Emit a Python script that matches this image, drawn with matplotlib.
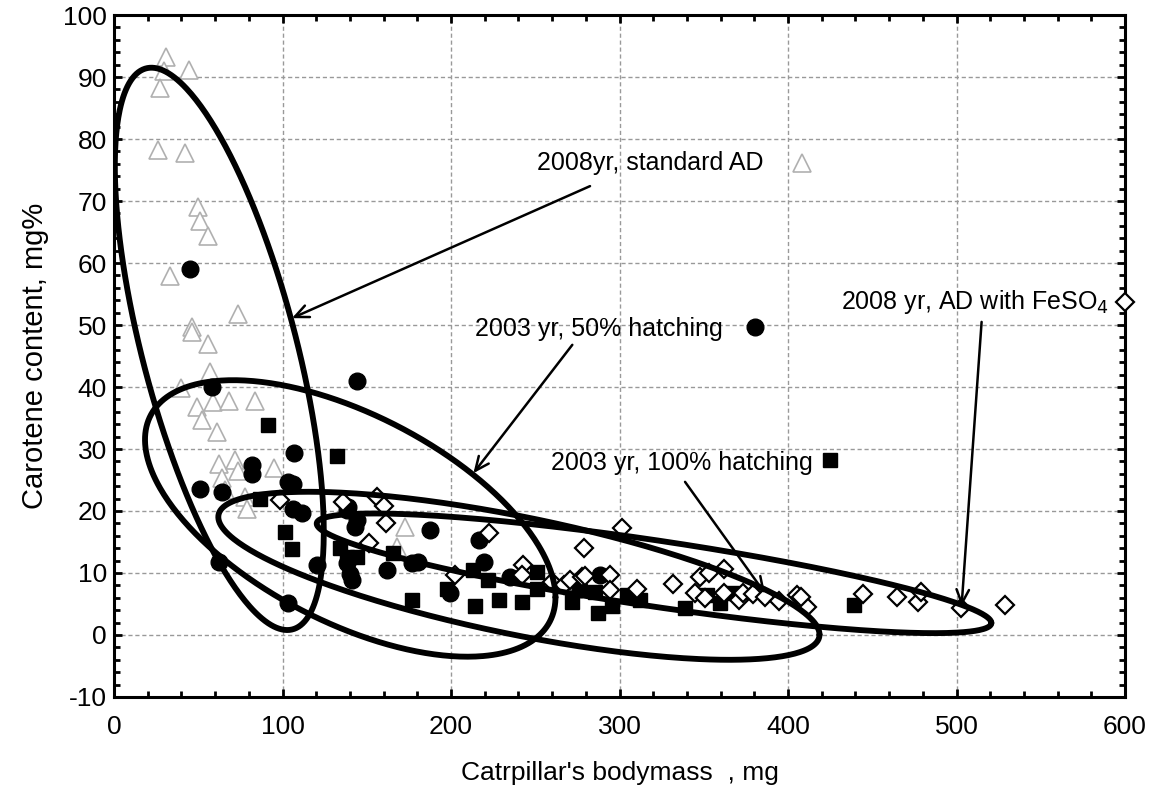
import numpy as np
import matplotlib
matplotlib.use("Agg")
import matplotlib.pyplot as plt
from matplotlib.ticker import MultipleLocator

plt.rcParams['font.family'] = ['Liberation Sans', 'DejaVu Sans']
plt.rcParams['axes.unicode_minus'] = False

# ---- data: 2008 yr, standard AD (open grey triangles)
tri_x = [30.9, 44.5, 29.9, 27.3, 25.9, 42.3, 49.9, 51.0, 56.0, 33.2, 73.4, 46.1, 46.1,
         56.0, 57.0, 39.8, 58.6, 68.4, 83.7, 49.4, 52.0, 61.3, 62.4, 71.8, 73.8, 95.0,
         63.9, 65.9, 77.7, 78.8, 172.7, 167.8]
tri_y = [93.3, 91.2, 90.9, 88.2, 78.2, 77.7, 69.1, 66.7, 64.4, 57.9, 51.8, 49.7, 48.9,
         47.0, 42.5, 39.8, 37.6, 37.8, 37.8, 36.8, 34.7, 32.8, 27.6, 28.3, 26.5, 27.0,
         25.3, 23.4, 22.3, 20.4, 17.5, 14.2]

# ---- data: 2003 yr, 50% hatching (filled circles)
cir_x = [45.1, 58.0, 144.4, 106.8, 81.7, 81.7, 103.4, 106.4, 51.0, 63.9, 106.4, 111.4,
         139.0, 144.0, 143.0, 187.5, 120.3, 62.5, 103.4, 138.1, 140.0, 141.0, 138.0,
         216.8, 219.6, 161.8, 176.6, 180.6, 199.4, 235.0, 276.6, 288.4]
cir_y = [59.1, 40.0, 40.9, 29.3, 27.4, 26.0, 24.7, 24.4, 23.5, 23.1, 20.4, 19.6,
         20.7, 18.5, 17.5, 16.9, 11.3, 11.8, 5.1, 11.6, 9.9, 8.9, 20.2,
         15.3, 11.8, 10.5, 11.6, 11.8, 6.7, 9.4, 7.5, 9.7]

# ---- data: 2003 yr, 100% hatching (filled squares)
sq_x = [91.6, 132.2, 86.6, 101.5, 105.5, 134.1, 138.1, 144.0, 165.8, 176.6, 197.8, 213.2,
        222.1, 214.2, 228.7, 241.9, 251.2, 251.2, 272.0, 285.5, 287.4, 295.3, 304.2,
        312.2, 339.0, 351.7, 359.6, 366.5, 439.4]
sq_y = [33.9, 28.8, 22.0, 16.6, 13.8, 14.0, 12.6, 12.6, 13.2, 5.6, 7.5, 10.5,
        8.9, 4.6, 5.6, 5.4, 10.1, 7.4, 5.4, 7.0, 3.5, 4.6, 6.5,
        5.6, 4.3, 6.5, 5.1, 6.7, 4.9]

# ---- data: 2008 yr, AD with FeSO4 (open diamonds)
dia_x = [98.5, 136.1, 156.3, 160.2, 161.4, 151.5, 202.4, 222.6, 242.5, 241.9, 259.8,
         267.1, 270.6, 277.5, 279.1, 301.3, 279.5, 294.4, 294.4, 310.6, 331.9, 347.8,
         353.3, 362.0, 344.8, 350.7, 362.0, 371.1, 373.5, 379.4, 386.4, 394.8, 405.5,
         411.0, 408.0, 444.7, 464.9, 477.3, 478.7, 502.5, 528.8]
dia_y = [21.8, 21.5, 22.3, 20.8, 18.0, 14.8, 9.7, 16.4, 11.3, 9.7, 8.6,
         8.1, 8.9, 9.4, 14.1, 17.2, 9.5, 9.7, 7.3, 7.4, 8.3, 9.4,
         10.0, 10.7, 6.7, 5.9, 6.7, 5.6, 6.7, 6.6, 6.2, 5.5, 6.5,
         4.5, 6.2, 6.6, 6.2, 5.4, 7.0, 4.3, 4.8]

# ---- ellipse statistics per group: centre, half extents, correlation
ell_cx = [62.5, 140.2, 240.3, 320.5]
ell_cy = [46.15, 18.8, 9.55, 9.95]
ell_ax = [62.0, 121.8, 178.4, 200.2]
ell_ay = [45.35, 22.3, 13.55, 9.65]
ell_r = [-0.65, -0.57, -0.70, -0.83]

# ---- annotations
labels = ["2008yr, standard AD", "2003 yr, 50% hatching", "2003 yr, 100% hatching",
          "2008 yr, AD with FeSO$_4$"]
label_x = [318.0, 288.0, 337.0, 511.0]
label_y = [76.1, 49.3, 27.8, 53.7]
arrow_from_x = [282.5, 272.0, 338.9, 514.9]
arrow_from_y = [72.4, 46.8, 24.7, 50.5]
arrow_to_x = [105.6, 213.3, 386.4, 503.0]
arrow_to_y = [51.1, 26.1, 6.7, 4.6]
# marker key next to each label
key_x = [408.3, 380.4, 425.0, 600.0]
key_y = [76.1, 49.7, 28.2, 53.7]

fig = plt.figure(figsize=(11.56, 7.89), dpi=100)
ax = fig.add_axes([114 / 1156, 1 - 697 / 789, (1125 - 114) / 1156, (697 - 15) / 789])

ax.set_xlim(0, 600)
ax.set_ylim(-10, 100)
ax.xaxis.set_major_locator(MultipleLocator(100))
ax.xaxis.set_minor_locator(MultipleLocator(20))
ax.yaxis.set_major_locator(MultipleLocator(10))
ax.yaxis.set_minor_locator(MultipleLocator(2))
ax.tick_params(which='both', direction='in', top=True, right=True, width=2.0)
ax.tick_params(which='major', length=6, labelsize=19)
ax.tick_params(which='minor', length=4)
ax.tick_params(axis='x', which='major', pad=13)
ax.tick_params(axis='y', which='major', pad=5)
for s in ax.spines.values():
    s.set_linewidth(2.2)
ax.grid(True, which='major', color='#999999', linestyle=(0, (3, 2)), linewidth=1.0)
ax.set_axisbelow(True)

ms_tri = dict(marker='^', linestyle='none', markersize=13, markerfacecolor='white',
              markeredgecolor='#b0b0b0', markeredgewidth=1.2)
ms_cir = dict(marker='o', linestyle='none', markersize=12, color='black')
ms_sq = dict(marker='s', linestyle='none', markersize=9.5, color='black')
ms_dia = dict(marker='D', linestyle='none', markersize=9, markerfacecolor='white',
              markeredgecolor='black', markeredgewidth=1.6)

ax.plot(tri_x, tri_y, zorder=3, **ms_tri)
ax.plot(cir_x, cir_y, zorder=4, **ms_cir)
ax.plot(sq_x, sq_y, zorder=4, **ms_sq)
ax.plot(dia_x, dia_y, zorder=5, **ms_dia)

t = np.linspace(0, 2 * np.pi, 400)
for cx, cy, axx, ayy, r in zip(ell_cx, ell_cy, ell_ax, ell_ay, ell_r):
    phi = np.arccos(r)
    ax.plot(cx + axx * np.cos(t), cy + ayy * np.cos(t - phi), color='black',
            linewidth=4.2, zorder=6, solid_capstyle='round')

for lab, lx, ly in zip(labels, label_x, label_y):
    ax.text(lx, ly, lab, fontsize=18, ha='center', va='center', zorder=7)

for fx, fy, tx, ty in zip(arrow_from_x, arrow_from_y, arrow_to_x, arrow_to_y):
    ax.annotate('', xy=(tx, ty), xytext=(fx, fy),
                arrowprops=dict(arrowstyle='->,head_length=1.0,head_width=0.45',
                                color='black', lw=1.8, shrinkA=0, shrinkB=0),
                zorder=7)

ax.plot(key_x[0], key_y[0], clip_on=False, zorder=8, **ms_tri)
ax.plot(key_x[1], key_y[1], clip_on=False, zorder=8, **ms_cir)
ax.plot(key_x[2], key_y[2], clip_on=False, zorder=8, **ms_sq)
ax.plot(key_x[3], key_y[3], clip_on=False, zorder=8, **ms_dia)

ax.set_xlabel("Catrpillar's bodymass  , mg", fontsize=19, labelpad=16)
ax.set_ylabel("Carotene content, mg%", fontsize=21, labelpad=10)

fig.savefig("out.png", dpi=100)
